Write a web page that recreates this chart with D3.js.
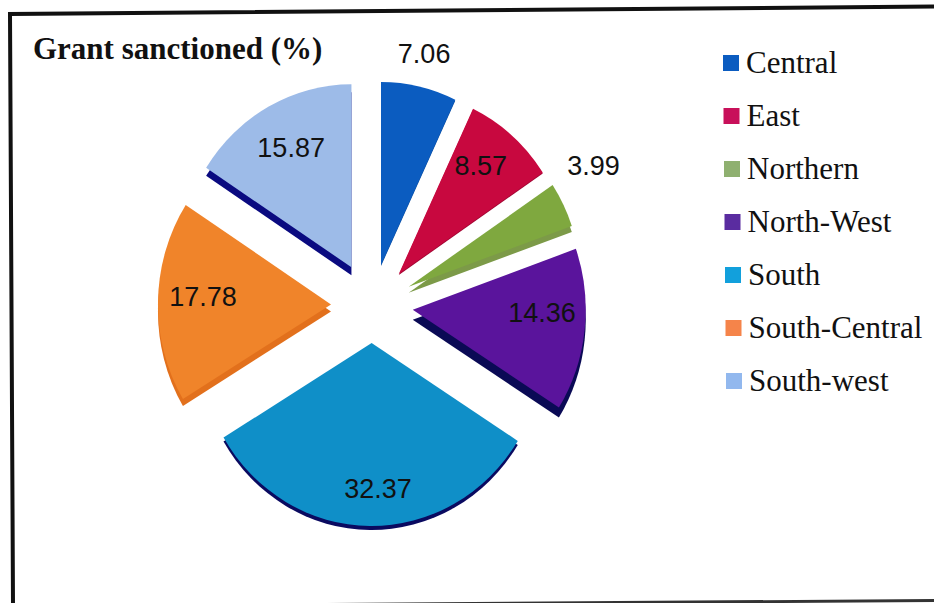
<!DOCTYPE html>
<html>
<head>
<meta charset="utf-8">
<script src="https://cdn.jsdelivr.net/npm/d3@7"></script>
<style>
  html, body { margin: 0; padding: 0; background: #fff; }
  svg { display: block; }
</style>
</head>
<body>
<svg id="chart"></svg>
<script>
const regions = ["Central", "East", "Northern", "North-West", "South", "South-Central", "South-west"];
const sanctioned = [7.06, 8.57, 3.99, 14.36, 32.37, 17.78, 15.87];
const title = "Grant sanctioned (%)";

const width = 934, height = 603;
const cx = 372, cy = 305;
const rx = 173, ry = 183;

const topColors = ["#0b5cc0", "#c8083f", "#7fa83f", "#5a149c", "#0f8fc8", "#f0842a", "#9dbbe8"];
const sideColors = ["#0a4a9c", "#a00632", "#7c9a48", "#0a0a55", "#0a0a60", "#e2701c", "#0a0a80"];
const swatchColors = ["#0b5cc0", "#c8105a", "#8fb070", "#5a2ca0", "#12a0dc", "#f5844a", "#92b8ee"];

// slice pull-out, side wall height, label placement (radius fraction and degrees off the slice middle)
const explode = [41, 41, 41, 41, 38, 41, 43];
const depth = [1, 1, 6, 10, 4, 7, 8];
const labelRadius = [1.169, 0.748, 1.251, 0.748, 0.81, 0.74, 0.729];
const labelTurn = [-0.4, -1.5, -4.8, -4.2, -3.2, 1.4, 0];

const svg = d3.select("#chart").attr("width", width).attr("height", height);

// scanned frame, slightly skewed, no right side
svg.append("path")
  .attr("d", "M934,6.5L10,14L13,603")
  .attr("fill", "none")
  .attr("stroke", "#111")
  .attr("stroke-width", 4);
svg.append("line")
  .attr("x1", 100).attr("y1", 606)
  .attr("x2", 934).attr("y2", 600.5)
  .attr("stroke", "#333")
  .attr("stroke-width", 3);

svg.append("text")
  .attr("x", 33).attr("y", 59)
  .style("font", "bold 31px 'Liberation Serif', serif")
  .attr("fill", "#111")
  .text(title);

const arcs = d3.pie().sort(null)(sanctioned);
const arc = d3.arc().innerRadius(0).outerRadius(1);
const midAngle = d => (d.startAngle + d.endAngle) / 2;

function apex(d) {
  const mid = midAngle(d);
  return [cx + Math.sin(mid) * explode[d.index], cy - Math.cos(mid) * explode[d.index]];
}

function sliceTransform(d, dy) {
  const [tx, ty] = apex(d);
  return `translate(${tx},${ty + dy}) scale(${rx},${ry})`;
}

function labelPoint(d) {
  const [tx, ty] = apex(d);
  const a = midAngle(d) + labelTurn[d.index] * Math.PI / 180;
  return [
    tx + Math.sin(a) * labelRadius[d.index] * rx,
    ty - Math.cos(a) * labelRadius[d.index] * ry
  ];
}

const slices = svg.append("g")
  .selectAll("g")
  .data(arcs)
  .join("g");

slices.append("path")
  .attr("d", arc)
  .attr("transform", d => sliceTransform(d, depth[d.index]))
  .attr("fill", d => sideColors[d.index]);

slices.append("path")
  .attr("d", arc)
  .attr("transform", d => sliceTransform(d, 0))
  .attr("fill", d => topColors[d.index]);

svg.append("g")
  .selectAll("text")
  .data(arcs)
  .join("text")
  .attr("x", d => labelPoint(d)[0])
  .attr("y", d => labelPoint(d)[1])
  .attr("text-anchor", "middle")
  .attr("dominant-baseline", "middle")
  .attr("fill", "#111")
  .style("font", "27px 'Liberation Sans', sans-serif")
  .text(d => d.data.toFixed(2));

// legend
const legendY = d3.scalePoint().domain(regions).range([63, 381]);
const legendX = d3.scalePoint().domain(regions).range([723, 726]);
const legend = svg.append("g")
  .selectAll("g")
  .data(regions)
  .join("g")
  .attr("transform", d => `translate(${legendX(d)},${legendY(d)})`);

legend.append("rect")
  .attr("x", 0).attr("y", -8)
  .attr("width", 16).attr("height", 16)
  .attr("fill", (d, i) => swatchColors[i]);

legend.append("text")
  .attr("x", 23).attr("y", 10)
  .attr("fill", "#111")
  .style("font", "31px 'Liberation Serif', serif")
  .text(d => d);
</script>
</body>
</html>
